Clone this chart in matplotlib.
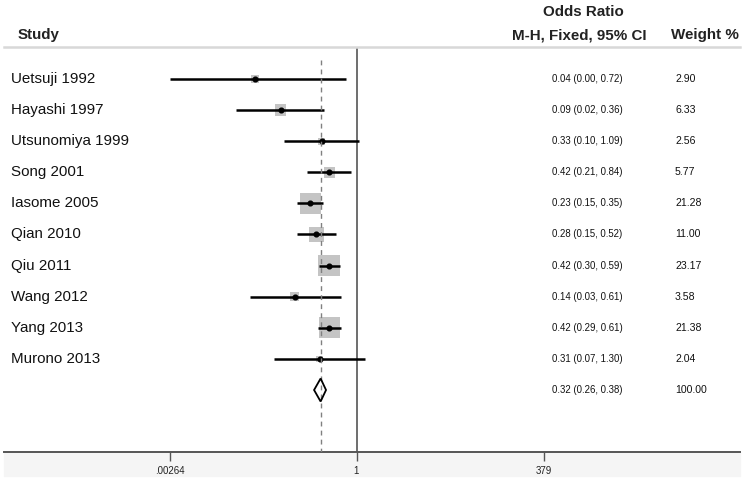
#!/usr/bin/env python3
"""Forest plot: odds ratios (M-H, fixed effect) for ten studies plus pooled estimate."""

import numpy as np
import matplotlib
matplotlib.use("Agg")
import matplotlib.pyplot as plt
from matplotlib.patches import Rectangle, Polygon
from matplotlib.lines import Line2D

plt.rcParams["font.family"] = ["Liberation Sans", "DejaVu Sans"]

studies = ["Uetsuji 1992", "Hayashi 1997", "Utsunomiya 1999", "Song 2001",
           "Iasome 2005", "Qian 2010", "Qiu 2011", "Wang 2012", "Yang 2013",
           "Murono 2013"]
odds = [0.04, 0.09, 0.33, 0.42, 0.23, 0.28, 0.42, 0.14, 0.42, 0.31]
ci_low = [0.00264, 0.022, 0.10, 0.21, 0.15, 0.15, 0.30, 0.034, 0.29, 0.073]
ci_high = [0.72, 0.36, 1.09, 0.84, 0.35, 0.52, 0.59, 0.61, 0.61, 1.30]
weights = [2.90, 6.33, 2.56, 5.77, 21.28, 11.00, 23.17, 3.58, 21.38, 2.04]

pooled, pooled_low, pooled_high, pooled_weight = 0.32, 0.26, 0.38, 100.00

xtick_vals = [0.00264, 1, 379]
xtick_labels = [".00264", "1", "379"]

W, H = 745, 480
ROW0, ROW_H = 79, 31.1          # pixel y of first row, row spacing
AX_TOP, AX_BOT = 47, 452        # pixel y of separator and x axis
AX_L, AX_R = 4, 740
X_CENTER, PX_DEC = 356.5, 72.52  # pixel x of OR=1, pixels per decade


def fx(px):
    return px / W


def fy(py):
    return 1 - py / H


def main():
    fig = plt.figure(figsize=(W / 100, H / 100), dpi=100)
    ax = fig.add_axes([fx(AX_L), fy(AX_BOT), (AX_R - AX_L) / W, (AX_BOT - AX_TOP) / H])
    ax.patch.set_alpha(0)
    ax.set_xscale("log")
    ax.set_xlim(10 ** ((AX_L - X_CENTER) / PX_DEC), 10 ** ((AX_R - X_CENTER) / PX_DEC))
    ax.set_ylim((AX_BOT - ROW0) / ROW_H, (AX_TOP - ROW0) / ROW_H)

    ys = np.arange(len(studies))
    y_pool = len(studies)

    # reference lines
    ax.axvline(1, color="#555555", lw=1.2, zorder=1)
    ax.vlines(pooled, -0.6, ax.get_ylim()[0], color="#808080", lw=1.0,
              linestyles=(0, (3.5, 3)), zorder=5)

    # study boxes, CI lines and points
    side_pt = 4.5 * np.sqrt(weights) * 0.72
    ax.scatter(odds, ys, marker="s", s=side_pt ** 2, color="#c4c4c4",
               edgecolors="none", zorder=2)
    ax.hlines(ys, ci_low, ci_high, color="black", lw=1.8, zorder=3)
    ax.plot(odds, ys, "o", color="black", ms=3.4, zorder=4)

    # pooled diamond
    dh = 0.37
    diamond = Polygon([(pooled_low, y_pool), (pooled, y_pool - dh),
                       (pooled_high, y_pool), (pooled, y_pool + dh)],
                      closed=True, facecolor="none", edgecolor="black", lw=1.3, zorder=6)
    ax.add_patch(diamond)

    # axis styling
    for s in ("top", "left", "right"):
        ax.spines[s].set_visible(False)
    ax.spines["bottom"].set_color("#555555")
    ax.spines["bottom"].set_linewidth(1.4)
    ax.set_yticks([])
    ax.set_xticks(xtick_vals)
    ax.set_xticklabels(xtick_labels)
    ax.xaxis.set_minor_locator(matplotlib.ticker.NullLocator())
    ax.tick_params(axis="x", length=6.5, width=1.0, color="#555555",
                   labelsize=7, pad=3.5, labelcolor="#222222")

    # text columns
    tr = ax.get_yaxis_transform()
    ax_x = lambda px: (px - AX_L) / (AX_R - AX_L)
    for name, o, lo, hi, w, y in zip(studies, odds, ci_low, ci_high, weights, ys):
        ax.text(ax_x(11), y, name, transform=tr, ha="left", va="center",
                fontsize=10.9, color="#111111")
        ax.text(ax_x(552), y, f"{o:.2f} ({lo:.2f}, {hi:.2f})", transform=tr,
                ha="left", va="center", fontsize=6.9, color="#111111")
        ax.text(ax_x(675), y, f"{w:.2f}", transform=tr, ha="left", va="center",
                fontsize=7.6, color="#111111")
    ax.text(ax_x(552), y_pool, f"{pooled:.2f} ({pooled_low:.2f}, {pooled_high:.2f})",
            transform=tr, ha="left", va="center", fontsize=6.9, color="#111111")
    ax.text(ax_x(675), y_pool, f"{pooled_weight:.2f}", transform=tr, ha="left",
            va="center", fontsize=7.6, color="#111111")

    # headers
    hdr = dict(fontsize=10.9, fontweight="bold", color="#222222", va="center")
    fig.text(fx(583), fy(12), "Odds Ratio", ha="center", **hdr)
    fig.text(fx(18), fy(35), "Study", ha="left", **hdr)
    fig.text(fx(647), fy(35), "M-H, Fixed, 95% CI", ha="right", **hdr)
    fig.text(fx(739), fy(35), "Weight %", ha="right", **hdr)

    # separator under header and gray band under the axis
    fig.add_artist(Line2D([fx(AX_L), fx(AX_R)], [fy(AX_TOP), fy(AX_TOP)],
                          color="#d8d8d8", lw=1.8))
    fig.patches.append(Rectangle((fx(AX_L), fy(476)), (AX_R - AX_L) / W, 24 / H,
                                 transform=fig.transFigure, color="#f5f5f5", zorder=-1))

    fig.savefig("out.png", dpi=100)


if __name__ == "__main__":
    main()
